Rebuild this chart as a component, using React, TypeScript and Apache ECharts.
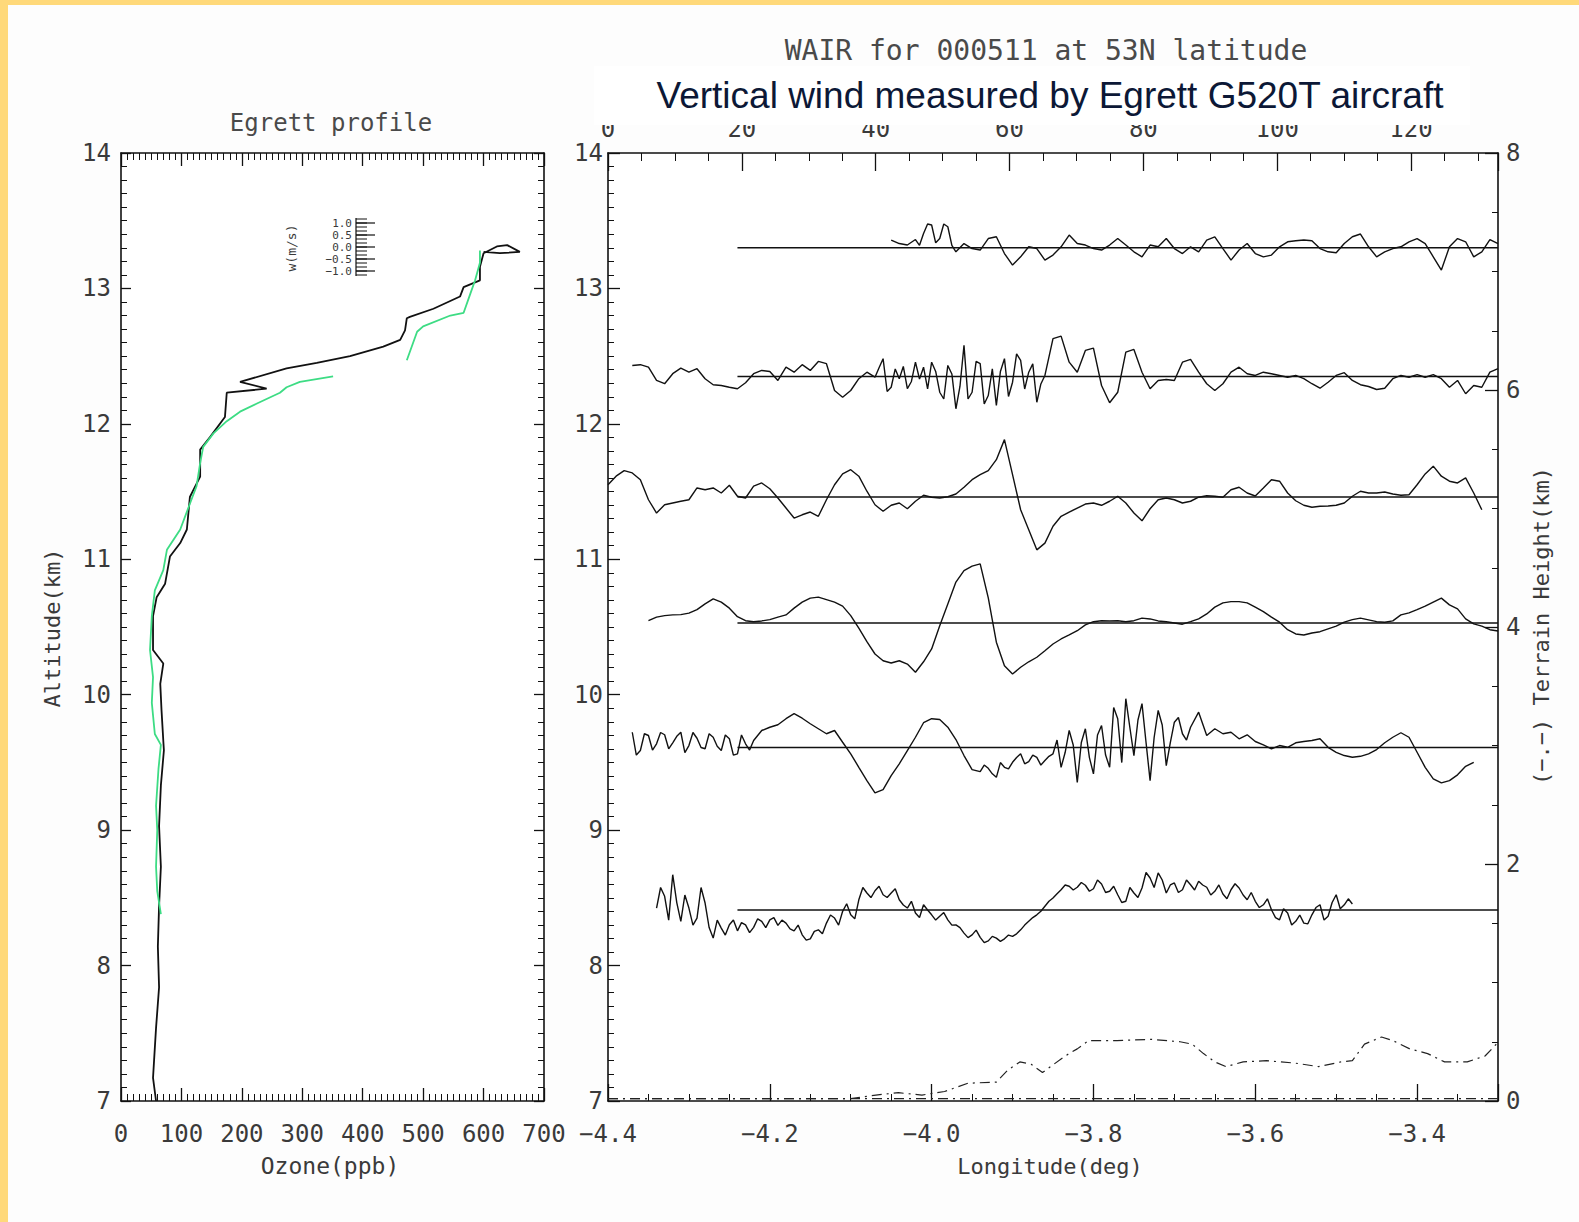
import React, { useEffect, useRef } from "react";
import * as echarts from "echarts";

// ---------------- data ----------------
// Ozone profile (ppb, altitude km)
const ozoneBlack: number[][] = [
  [58, 7.0], [53, 7.17], [55, 7.32], [58, 7.54], [63, 7.84], [61, 8.14], [63, 8.44], [66, 8.73],
  [63, 9.03], [66, 9.33], [71, 9.59], [70, 9.66], [67, 9.89], [65, 10.08], [70, 10.23], [53, 10.33],
  [53, 10.58], [59, 10.72], [73, 10.82], [81, 11.02], [98, 11.12], [109, 11.22], [114, 11.46],
  [131, 11.61], [131, 11.81], [147, 11.9], [172, 12.05], [175, 12.23], [241, 12.26], [197, 12.31],
  [274, 12.41], [324, 12.45], [379, 12.5], [434, 12.57], [462, 12.62], [470, 12.69], [473, 12.78],
  [478, 12.79], [517, 12.85], [561, 12.94], [567, 13.01], [594, 13.06], [594, 13.16], [600, 13.26],
  [622, 13.31], [639, 13.32], [660, 13.27], [627, 13.26], [600, 13.27],
];
const ozoneGreenLower: number[][] = [
  [66, 8.38], [60, 8.55], [58, 8.73], [60, 9.0], [58, 9.18], [62, 9.45], [66, 9.63], [56, 9.71],
  [51, 9.94], [53, 10.13], [48, 10.33], [51, 10.58], [56, 10.77], [70, 10.92], [76, 11.07],
  [98, 11.22], [114, 11.41], [125, 11.54], [131, 11.71], [136, 11.83], [153, 11.93], [175, 12.02],
  [197, 12.09], [225, 12.15], [263, 12.23], [274, 12.27], [296, 12.31], [351, 12.35],
];
const ozoneGreenUpper: number[][] = [
  [473, 12.47], [490, 12.68], [500, 12.72], [545, 12.8], [567, 12.82], [578, 12.96], [586, 13.06],
  [594, 13.19], [594, 13.28],
];

// Vertical wind traces (m/s), sampled every 0.01 deg of longitude from each start
const LON_STEP = 0.01;
const baseAltitudes = [13.3, 12.35, 11.46, 10.53, 9.61, 8.41];
const windStarts = [-4.05, -4.37, -4.4, -4.35, -4.37, -4.34];
const wind1 = [0.31, 0.17, 0.11, 0.33, 0.57, 0.91, 0.37, 0.84, -0.16, 0.17, -0.03, -0.09, 0.37, 0.44, -0.23, -0.69, -0.36, 0.04, -0.03, -0.49, -0.29, 0.04, 0.51, 0.17, 0.11, -0.03, -0.09, 0.11, 0.37, 0.11, -0.16, -0.36, 0.11, 0.04, 0.37, -0.03, -0.23, 0.04, -0.16, 0.31, 0.44, -0.03, -0.49, -0.09, 0.17, -0.23, -0.36, -0.29, 0.04, 0.24, 0.28, 0.31, 0.28, -0.03, -0.16, -0.2, 0.17, 0.44, 0.55, 0.04, -0.36, -0.16, -0.03, 0.04, 0.24, 0.37, 0.17, -0.36, -0.89, 0.04, 0.37, 0.24, -0.36, -0.16, 0.33, 0.17];
const wind2 = [0.44, 0.47, 0.37, -0.16, -0.29, 0.11, 0.33, 0.17, 0.31, -0.09, -0.33, -0.36, -0.43, -0.49, -0.25, 0.11, 0.24, 0.2, -0.16, 0.37, 0.17, 0.47, 0.24, 0.6, 0.51, -0.56, -0.83, -0.56, -0.09, 0.17, -0.03, 0.71, -0.43, -0.09, -0.49, 0.57, 0.37, 0.57, -0.63, 0.44, -1.29, 1.24, -0.63, 0.51, -0.76, -1.16, 0.71, -0.23, 0.64, 0.17, -1.03, 0.04, 1.51, 1.61, 0.57, 0.17, 1.04, 1.13, -0.36, -1.05, -0.63, 0.97, 1.08, 0.17, -0.49, -0.16, -0.12, -0.16, 0.57, 0.68, 0.17, -0.29, -0.56, -0.29, 0.17, 0.37, 0.11, 0.04, 0.17, 0.11, 0.04, -0.03, 0.04, -0.09, -0.29, -0.47, -0.23, 0.04, 0.15, -0.16, -0.33, -0.4, -0.52, -0.47, -0.09, 0.04, -0.03, 0.07, -0.03, 0.07, -0.09, -0.43, -0.16, -0.69, -0.36, -0.43, 0.17, 0.31];
const wind3 = [0.49, 0.83, 1.05, 0.96, 0.69, -0.11, -0.64, -0.31, -0.24, -0.17, -0.11, 0.36, 0.29, 0.36, 0.16, 0.47, 0.03, -0.04, 0.43, 0.56, 0.33, -0.04, -0.44, -0.84, -0.71, -0.6, -0.77, -0.11, 0.49, 0.92, 1.09, 0.83, 0.23, -0.31, -0.57, -0.33, -0.24, -0.47, -0.17, 0.07, -0.01, -0.04, 0.01, 0.12, 0.39, 0.69, 0.89, 1.05, 1.49, 2.29, 0.89, -0.51, -1.31, -2.11, -1.84, -1.17, -0.77, -0.6, -0.44, -0.28, -0.24, -0.33, -0.17, 0.03, -0.24, -0.64, -0.95, -0.47, -0.11, -0.04, -0.11, -0.24, -0.17, -0.01, 0.05, 0.03, -0.01, 0.29, 0.39, 0.16, 0.04, 0.36, 0.69, 0.63, 0.16, -0.15, -0.33, -0.41, -0.37, -0.36, -0.33, -0.24, 0.03, 0.23, 0.16, 0.16, 0.2, 0.12, 0.07, 0.09, 0.49, 0.92, 1.23, 0.83, 0.63, 0.56, 0.76, 0.16, -0.51];
const wind4 = [0.09, 0.23, 0.29, 0.32, 0.33, 0.39, 0.53, 0.76, 0.96, 0.83, 0.59, 0.25, 0.09, 0.05, 0.08, 0.13, 0.23, 0.32, 0.59, 0.83, 0.99, 1.03, 0.93, 0.83, 0.67, 0.29, -0.21, -0.75, -1.24, -1.51, -1.6, -1.51, -1.64, -1.97, -1.55, -1.04, -0.11, 0.76, 1.63, 2.09, 2.27, 2.36, 1.0, -0.77, -1.71, -2.04, -1.77, -1.55, -1.37, -1.11, -0.84, -0.64, -0.48, -0.31, -0.08, 0.05, 0.09, 0.08, 0.09, 0.05, 0.09, 0.19, 0.16, 0.08, 0.05, 0.0, -0.05, 0.05, 0.16, 0.36, 0.63, 0.8, 0.85, 0.85, 0.8, 0.63, 0.45, 0.23, 0.03, -0.27, -0.44, -0.48, -0.4, -0.35, -0.24, -0.13, 0.03, 0.13, 0.19, 0.12, 0.05, 0.03, 0.08, 0.32, 0.4, 0.53, 0.67, 0.83, 0.99, 0.72, 0.56, 0.16, -0.04, -0.13, -0.27, -0.32];
const wind5 = [0.61, -0.12, 0.48, 0.15, 0.51, 0.19, 0.61, 0.08, 0.37, -0.05, 0.41, -0.12, 0.35, -0.25, 0.15, 0.28, 0.68, 0.81, 0.91, 1.15, 1.35, 1.17, 0.95, 0.75, 0.55, 0.68, 0.21, -0.25, -0.79, -1.32, -1.81, -1.68, -1.12, -0.65, -0.12, 0.41, 0.99, 1.15, 1.12, 0.81, 0.32, -0.32, -0.88, -0.96, -0.83, -1.19, -0.79, -0.59, -0.25, -0.56, -0.39, -0.52, -0.25, -0.79, 0.68, -1.39, 0.75, -1.05, 0.88, -0.79, 1.15, 1.95, -0.32, 1.75, -1.32, 1.48, -0.72, 1.01, 0.55, 0.81, 1.41, 0.48, 0.75, 0.55, 0.61, 0.35, 0.51, 0.24, 0.11, -0.05, 0.08, 0.01, 0.19, 0.24, 0.28, 0.35, 0.01, -0.19, -0.32, -0.39, -0.35, -0.25, -0.08, 0.19, 0.41, 0.59, 0.41, -0.19, -0.79, -1.25, -1.41, -1.32, -1.09, -0.75, -0.59];
const wind6 = [0.08, 0.55, 1.41, -0.45, 0.08, -0.32, 0.28, -1.12, -0.72, -0.59, -0.83, -0.59, -0.69, -0.45, -0.39, -0.61, -0.52, -0.83, -0.99, -1.15, -0.79, -0.52, -0.32, -0.05, -0.19, 0.41, 0.68, 0.77, 0.61, 0.68, 0.41, 0.08, -0.12, 0.21, -0.19, -0.25, -0.39, -0.59, -0.92, -0.99, -1.09, -1.23, -1.12, -1.15, -1.05, -0.79, -0.45, -0.19, 0.15, 0.48, 0.81, 0.95, 0.91, 0.99, 0.85, 1.04, 0.75, 0.61, 0.35, 0.68, 0.88, 1.28, 1.48, 0.68, 1.08, 0.81, 1.01, 1.15, 0.91, 0.75, 0.64, 0.81, 0.88, 0.41, 0.35, 0.21, 0.01, -0.39, -0.12, -0.45, -0.52, -0.19, 0.21, -0.25, 0.61, 0.21, 0.24];
const windTraces = [wind1, wind2, wind3, wind4, wind5, wind6];

// Extra turbulence readings between the regular samples (also every 0.01 deg, offset by half a step)
const fuzz1Start = -4.015;
const fuzz1 = [0.1, 0.95, 0.2, 0.95, 0.1];
const fuzz2Start = -4.065;
const fuzz2 = [0.35, -0.6, 0.3, 0.4, -0.2, -0.1, -0.5, 0.2, -0.9, 0.1, -0.4, -0.9, 0.6, -1.1, 0.3, 0.2, -0.8, 0.9, -0.5, 0.5, -0.3];
const fuzz5aStart = -4.365;
const fuzz5a = [-0.3, 0.55, -0.1, 0.6, -0.05, 0.45, -0.2, 0.6, 0.0, 0.55, 0.05, 0.5, -0.3, 0.5, -0.1];
const fuzz5bStart = -3.935;
const fuzz5b = [-0.7, -1.05, -0.6, -0.85, -0.4, -0.65, -0.3, -0.7, -0.35, 0.3, -0.2, 0.1, 0.2, -0.4, 0.5, -0.3, 1.6, -0.6, 0.8, 1.1, 0.2, 0.4, 0.9, 0.2, 1.2, 0.3];
const fuzz6Start = -4.335;
const fuzz6 = [0.9, -0.4, 0.3, 0.6, -0.6, 0.9, -0.7, -0.4, -1.0, -0.4, -0.5, -0.9, -0.35, -0.7, -0.3, -0.4, -0.75, -0.6, -1.2, -0.85, -0.95, -0.2, -0.6, 0.25, -0.35, 0.9, 0.5, 0.95, 0.5, 0.85, 0.2, 0.35, -0.3, 0.0, -0.4, -0.1, -0.6, -0.7, -1.1, -0.8, -1.3, -1.05, -1.25, -1.0, -0.95, -0.6, -0.3, -0.05, 0.35, 0.65, 1.0, 0.8, 1.1, 0.75, 1.2, 0.7, 0.95, 0.3, 0.9, 0.5, 1.5, 0.9, 1.2, 1.0, 0.7, 1.2, 0.8, 1.0, 0.6, 1.0, 0.45, 1.05, 0.6, 0.7, 0.1, 0.45, -0.3, 0.05, -0.6, -0.2, -0.55, 0.1, -0.4, 0.3, 0.05, 0.45];
const windFuzz: [number, number[]][][] = [
  [[fuzz1Start, fuzz1]],
  [[fuzz2Start, fuzz2]],
  [],
  [],
  [[fuzz5aStart, fuzz5a], [fuzz5bStart, fuzz5b]],
  [[fuzz6Start, fuzz6]],
];
const W_SCALE_KM = 0.185; // altitude offset (km) per 1 m/s
const BASELINE_LON = [-4.24, -3.3];

// Terrain height (km) along the flight track
const terrainLon = [-4.4, -4.1, -4.069, -4.041, -4.012, -3.984, -3.955, -3.92, -3.906, -3.891, -3.877, -3.863, -3.849, -3.835, -3.82, -3.806, -3.771, -3.728, -3.693, -3.678, -3.664, -3.65, -3.636, -3.615, -3.586, -3.551, -3.522, -3.494, -3.48, -3.465, -3.444, -3.43, -3.409, -3.387, -3.366, -3.338, -3.316, -3.302];
const terrainH = [0.02, 0.02, 0.05, 0.07, 0.05, 0.08, 0.15, 0.16, 0.26, 0.33, 0.31, 0.24, 0.31, 0.38, 0.44, 0.51, 0.51, 0.52, 0.5, 0.48, 0.4, 0.33, 0.29, 0.33, 0.34, 0.32, 0.29, 0.33, 0.34, 0.48, 0.54, 0.51, 0.44, 0.4, 0.33, 0.33, 0.38, 0.48];
const seaLevel = [[-4.4, 0.02], [-3.3, 0.02]];

// Axis ranges
const OZONE_RANGE = [0, 700];
const ALT_RANGE = [7, 14];
const LON_RANGE = [-4.4, -3.3];
const DIST_RANGE = [0, 133];
const TERRAIN_RANGE = [0, 8];
const wLegendLabels = ["1.0", "0.5", "0.0", "\u22120.5", "\u22121.0"];

const IDL_FONT = "'DejaVu Sans Mono', monospace";
const TXT = "#3a3a3a";

function axisBase(extra: any) {
  return {
    type: "value",
    axisLine: { show: true, onZero: false, lineStyle: { color: "#111", width: 1.6 } },
    axisTick: { show: true, inside: true, length: 13, lineStyle: { color: "#111", width: 1.3 } },
    minorTick: { show: true, length: 6, lineStyle: { color: "#111", width: 1 } },
    splitLine: { show: false },
    minorSplitLine: { show: false },
    axisLabel: { show: false },
    ...extra,
  };
}
const labelStyle = { fontFamily: IDL_FONT, fontSize: 24, color: TXT };
const minus = (v: number, d: number) => v.toFixed(d).replace("-", "\u2212");

function tracePoints(start: number, w: number[], base: number, extras: [number, number[]][]) {
  const pts: number[][] = w.map((v, i) => [start + i * LON_STEP, v]);
  extras.forEach(([s, arr]) => arr.forEach((v, i) => pts.push([s + i * LON_STEP, v])));
  pts.sort((a, b) => a[0] - b[0]);
  return pts.map(([x, v]) => [+x.toFixed(4), base + v * W_SCALE_KM]);
}

export default function App() {
  const ref = useRef<HTMLDivElement>(null);
  useEffect(() => {
    if (!ref.current) return;
    const chart = echarts.init(ref.current, undefined, { renderer: "svg" });

    const windSeries: any[] = [];
    windTraces.forEach((w, idx) => {
      const base = baseAltitudes[idx];
      windSeries.push({
        type: "line", xAxisIndex: 2, yAxisIndex: 2, symbol: "none", silent: true,
        lineStyle: { color: "#111", width: 1.4 },
        data: BASELINE_LON.map((x) => [x, base]),
      });
      windSeries.push({
        type: "line", xAxisIndex: 2, yAxisIndex: 2, symbol: "none", silent: true,
        lineStyle: { color: "#111", width: 1.4 },
        data: tracePoints(windStarts[idx], w, base, windFuzz[idx]),
      });
    });

    const legendY0 = 223;
    const legendGraphics: any[] = [
      { type: "text", x: 291, y: 248, rotation: Math.PI / 2, z: 50,
        style: { text: "w(m/s)", fontFamily: IDL_FONT, fontSize: 13, fill: TXT, textAlign: "center", textVerticalAlign: "middle" } },
      { type: "line", z: 50, shape: { x1: 356, y1: 218, x2: 356, y2: 276 }, style: { stroke: "#111", lineWidth: 1.2 } },
    ];
    wLegendLabels.forEach((t, i) => {
      legendGraphics.push({ type: "text", x: 352, y: legendY0 + i * 12, z: 50,
        style: { text: t, fontFamily: IDL_FONT, fontSize: 11, fill: TXT, textAlign: "right", textVerticalAlign: "middle" } });
      legendGraphics.push({ type: "line", z: 50, shape: { x1: 356, y1: legendY0 + i * 12, x2: 375, y2: legendY0 + i * 12 }, style: { stroke: "#111", lineWidth: 1.2 } });
    });
    for (let j = 0; j < 15; j++) {
      const yy = 219 + j * 4;
      legendGraphics.push({ type: "line", z: 50, shape: { x1: 356, y1: yy, x2: 367, y2: yy }, style: { stroke: "#111", lineWidth: 1 } });
    }

    chart.setOption({
      animation: false,
      backgroundColor: "#fdfdfd",
      grid: [
        { left: 121, top: 153, width: 423, height: 948, show: true, backgroundColor: "#fff", borderWidth: 0 },
        { left: 608, top: 153, width: 890, height: 948, show: true, backgroundColor: "#fff", borderWidth: 0 },
      ],
      xAxis: [
        axisBase({ gridIndex: 0, position: "bottom", min: OZONE_RANGE[0], max: OZONE_RANGE[1], interval: 100,
          minorTick: { show: true, splitNumber: 10, length: 7, lineStyle: { color: "#111", width: 1 } },
          axisLabel: { show: true, margin: 21, ...labelStyle } }),
        axisBase({ gridIndex: 0, position: "top", min: OZONE_RANGE[0], max: OZONE_RANGE[1], interval: 100,
          minorTick: { show: true, splitNumber: 10, length: 7, lineStyle: { color: "#111", width: 1 } } }),
        axisBase({ gridIndex: 1, position: "bottom", min: LON_RANGE[0], max: LON_RANGE[1], interval: 0.2,
          axisTick: { show: true, inside: true, length: 17, lineStyle: { color: "#111", width: 1.3 } },
          minorTick: { show: true, splitNumber: 4, length: 7, lineStyle: { color: "#111", width: 1 } },
          axisLabel: { show: true, margin: 21, showMaxLabel: false, formatter: (v: number) => minus(v, 1), ...labelStyle } }),
        axisBase({ gridIndex: 1, position: "top", min: DIST_RANGE[0], max: DIST_RANGE[1], interval: 20,
          axisTick: { show: true, inside: true, length: 18, lineStyle: { color: "#111", width: 1.3 } },
          minorTick: { show: true, splitNumber: 4, length: 8, lineStyle: { color: "#111", width: 1 } },
          axisLabel: { show: true, margin: 12, showMaxLabel: false, ...labelStyle } }),
      ],
      yAxis: [
        axisBase({ gridIndex: 0, position: "left", min: ALT_RANGE[0], max: ALT_RANGE[1], interval: 1,
          minorTick: { show: true, splitNumber: 10, length: 6, lineStyle: { color: "#111", width: 1 } },
          axisTick: { show: true, inside: true, length: 10, lineStyle: { color: "#111", width: 1.3 } },
          axisLabel: { show: true, margin: 10, ...labelStyle } }),
        axisBase({ gridIndex: 0, position: "right", min: ALT_RANGE[0], max: ALT_RANGE[1], interval: 1,
          minorTick: { show: true, splitNumber: 10, length: 6, lineStyle: { color: "#111", width: 1 } },
          axisTick: { show: true, inside: true, length: 10, lineStyle: { color: "#111", width: 1.3 } } }),
        axisBase({ gridIndex: 1, position: "left", min: ALT_RANGE[0], max: ALT_RANGE[1], interval: 1,
          minorTick: { show: true, splitNumber: 10, length: 6, lineStyle: { color: "#111", width: 1 } },
          axisTick: { show: true, inside: true, length: 12, lineStyle: { color: "#111", width: 1.3 } },
          axisLabel: { show: true, margin: 5, ...labelStyle } }),
        axisBase({ gridIndex: 1, position: "right", min: TERRAIN_RANGE[0], max: TERRAIN_RANGE[1], interval: 2,
          minorTick: { show: true, splitNumber: 4, length: 6, lineStyle: { color: "#111", width: 1 } },
          axisTick: { show: true, inside: true, length: 13, lineStyle: { color: "#111", width: 1.3 } },
          axisLabel: { show: true, margin: 8, ...labelStyle } }),
      ],
      series: [
        { type: "line", xAxisIndex: 0, yAxisIndex: 0, symbol: "none", silent: true,
          lineStyle: { color: "#111", width: 1.8 }, data: ozoneBlack },
        { type: "line", xAxisIndex: 0, yAxisIndex: 0, symbol: "none", silent: true,
          lineStyle: { color: "#3ddc84", width: 1.8 }, data: ozoneGreenLower },
        { type: "line", xAxisIndex: 0, yAxisIndex: 0, symbol: "none", silent: true,
          lineStyle: { color: "#3ddc84", width: 1.8 }, data: ozoneGreenUpper },
        ...windSeries,
        { type: "line", xAxisIndex: 2, yAxisIndex: 3, symbol: "none", silent: true,
          lineStyle: { color: "#222", width: 1.2, type: [10, 5, 2, 5] },
          data: terrainLon.map((x, i) => [x, terrainH[i]]) },
        { type: "line", xAxisIndex: 2, yAxisIndex: 3, symbol: "none", silent: true,
          lineStyle: { color: "#222", width: 1.2, type: [10, 5, 2, 5] }, data: seaLevel },
      ],
      graphic: [
        { type: "rect", z: 100, shape: { x: 0, y: 0, width: 1579, height: 5 }, style: { fill: "#FFD97A" } },
        { type: "rect", z: 100, shape: { x: 0, y: 0, width: 8, height: 1222 }, style: { fill: "#FFD97A" } },
        { type: "rect", z: 90, shape: { x: 594, y: 66, width: 876, height: 59 }, style: { fill: "#ffffff" } },
        { type: "text", z: 100, x: 1046, y: 50,
          style: { text: "WAIR for 000511 at 53N latitude", fontFamily: IDL_FONT, fontSize: 28, fill: "#4a4a4a", textAlign: "center", textVerticalAlign: "middle" } },
        { type: "text", z: 100, x: 1050, y: 95,
          style: { text: "Vertical wind measured by Egrett G520T aircraft", fontFamily: "'Liberation Sans', Arial, sans-serif", fontSize: 37, fill: "#0c1836", textAlign: "center", textVerticalAlign: "middle" } },
        { type: "text", z: 100, x: 331, y: 123,
          style: { text: "Egrett profile", fontFamily: IDL_FONT, fontSize: 24, fill: "#4a4a4a", textAlign: "center", textVerticalAlign: "middle" } },
        { type: "text", z: 100, x: 52, y: 628, rotation: Math.PI / 2,
          style: { text: "Altitude(km)", fontFamily: IDL_FONT, fontSize: 22, fill: TXT, textAlign: "center", textVerticalAlign: "middle" } },
        { type: "text", z: 100, x: 330, y: 1166,
          style: { text: "Ozone(ppb)", fontFamily: IDL_FONT, fontSize: 23, fill: TXT, textAlign: "center", textVerticalAlign: "middle" } },
        { type: "text", z: 100, x: 1050, y: 1166,
          style: { text: "Longitude(deg)", fontFamily: IDL_FONT, fontSize: 22, fill: TXT, textAlign: "center", textVerticalAlign: "middle" } },
        { type: "text", z: 100, x: 1541, y: 626, rotation: Math.PI / 2,
          style: { text: "(\u2212.\u2212) Terrain Height(km)", fontFamily: IDL_FONT, fontSize: 22, fill: TXT, textAlign: "center", textVerticalAlign: "middle" } },
        ...legendGraphics,
      ],
    });
    return () => chart.dispose();
  }, []);
  return <div ref={ref} style={{ position: "fixed", left: 0, top: 0, width: 1579, height: 1222 }} />;
}
